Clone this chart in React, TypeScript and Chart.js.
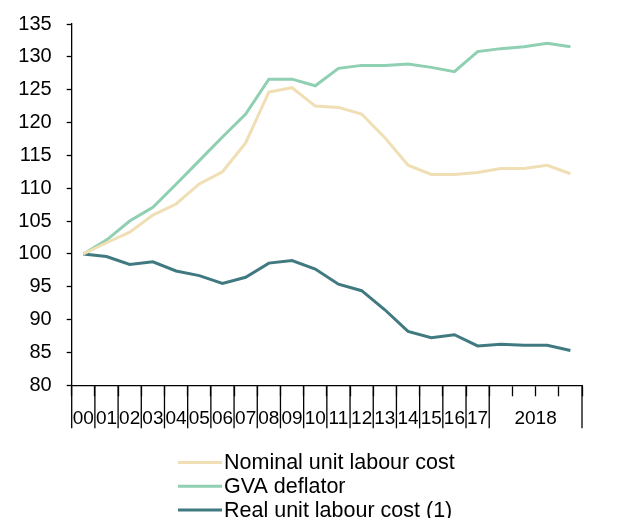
import React, { useEffect, useRef } from "react";
import { Chart, registerables } from "chart.js";

Chart.register(...registerables);

const categories = ["00","01","02","03","04","05","06","07","08","09","10","11","12","13","14","15","16","17","18Q1","18Q2","18Q3","18Q4"];
const groupLabel = "2018";
const groupStart = 18;

const nominalULC = [100, 101.7, 103.3, 105.9, 107.6, 110.65, 112.5, 116.9, 124.65, 125.3, 122.5, 122.3, 121.3, 117.7, 113.5, 112.1, 112.1, 112.4, 113.0, 113.0, 113.5, 112.2];
const gvaDeflator = [100, 102.1, 105.0, 107.1, 110.6, 114.2, 117.8, 121.3, 126.6, 126.6, 125.6, 128.25, 128.7, 128.7, 128.9, 128.4, 127.75, 130.8, 131.25, 131.55, 132.05, 131.55];
const realULC = [100, 99.6, 98.4, 98.8, 97.4, 96.7, 95.5, 96.45, 98.6, 99.0, 97.7, 95.4, 94.4, 91.5, 88.2, 87.25, 87.7, 86.0, 86.25, 86.1, 86.1, 85.3];

const seriesLabels = ["Nominal unit labour cost", "GVA deflator", "Real unit labour cost (1)"];
const seriesColors = ["#F0DEB4", "#8FCFB2", "#407A80"];

const FONT = "'Liberation Sans', Arial, sans-serif";
const FS_Y = 20;
const FS_X = 19;
const FS_LEG = 21.5;
const X_TICK_LEN = 11;
const X_PAD = 11;

export default function App() {
  const ref = useRef<HTMLCanvasElement | null>(null);
  useEffect(() => {
    if (!ref.current) return;
    const sepPlugin = {
      id: "sepPlugin",
      afterDraw(chart: any) {
        const ctx = chart.ctx;
        const xs = chart.scales.x;
        const n = categories.length;
        const step = (xs.right - xs.left) / n;
        ctx.save();
        ctx.strokeStyle = "#000";
        ctx.lineWidth = 1.3;
        for (let i = 0; i <= n; i++) {
          if (i > groupStart && i < n) continue;
          const bx = xs.left + i * step;
          ctx.beginPath();
          ctx.moveTo(bx, xs.top);
          ctx.lineTo(bx, xs.top + 43);
          ctx.stroke();
        }
        // group label
        const gx = (xs.getPixelForValue(groupStart) + xs.getPixelForValue(n - 1)) / 2;
        ctx.fillStyle = "#000";
        ctx.font = `${FS_X}px ${FONT}`;
        ctx.textAlign = "center";
        ctx.textBaseline = "middle";
        ctx.fillText(groupLabel, gx, xs.top + X_TICK_LEN + X_PAD + FS_X * 1.2 / 2);
        // legend
        const rowY0 = 454.5;
        const rowStep = 23.8;
        ctx.textAlign = "left";
        ctx.font = `${FS_LEG}px ${FONT}`;
        chart.data.datasets.forEach((ds: any, i: number) => {
          const y = rowY0 + i * rowStep;
          ctx.strokeStyle = ds.borderColor;
          ctx.lineWidth = 3;
          ctx.beginPath();
          ctx.moveTo(170, y);
          ctx.lineTo(214, y);
          ctx.stroke();
          ctx.fillStyle = "#000";
          ctx.fillText(ds.label, 216, y + 1);
        });
        ctx.restore();
      },
    };
    const chart = new Chart(ref.current, {
      type: "line",
      data: {
        labels: categories,
        datasets: [nominalULC, gvaDeflator, realULC].map((d, i) => ({
          label: seriesLabels[i],
          data: d,
          borderColor: seriesColors[i],
          backgroundColor: seriesColors[i],
          borderWidth: 3,
          pointRadius: 0,
          tension: 0,
          fill: false,
        })),
      },
      options: {
        animation: false,
        responsive: true,
        maintainAspectRatio: false,
        layout: { padding: { left: 0, right: 30, top: 16, bottom: 96.7 } },
        plugins: { legend: { display: false }, tooltip: { enabled: false } },
        scales: {
          x: {
            offset: true,
            grid: { display: true, drawOnChartArea: false, drawTicks: true, tickLength: X_TICK_LEN, tickColor: "#000", tickWidth: 1.3, offset: true },
            border: { display: true, color: "#000", width: 1.3 },
            ticks: {
              autoSkip: false,
              maxRotation: 0,
              minRotation: 0,
              padding: X_PAD,
              color: "#000",
              font: { family: FONT, size: FS_X },
              callback: (_v: any, i: number) => (i < groupStart ? categories[i] : ""),
            },
            afterFit: (s: any) => { s.height = 44; },
          },
          y: {
            min: 80,
            max: 135,
            grid: { display: true, drawOnChartArea: false, drawTicks: true, tickLength: 5, tickColor: "#000", tickWidth: 1.3 },
            border: { display: true, color: "#000", width: 1.3 },
            ticks: { stepSize: 5, padding: 15, color: "#000", font: { family: FONT, size: FS_Y } },
            afterFit: (s: any) => { s.width = 63.7; s.paddingTop = 0; s.paddingBottom = 0; },
          },
        },
      },
      plugins: [sepPlugin],
    });
    return () => chart.destroy();
  }, []);
  return (
    <div style={{ width: 604, height: 518, marginBottom: -8, position: "relative" }}>
      <canvas ref={ref} />
    </div>
  );
}
